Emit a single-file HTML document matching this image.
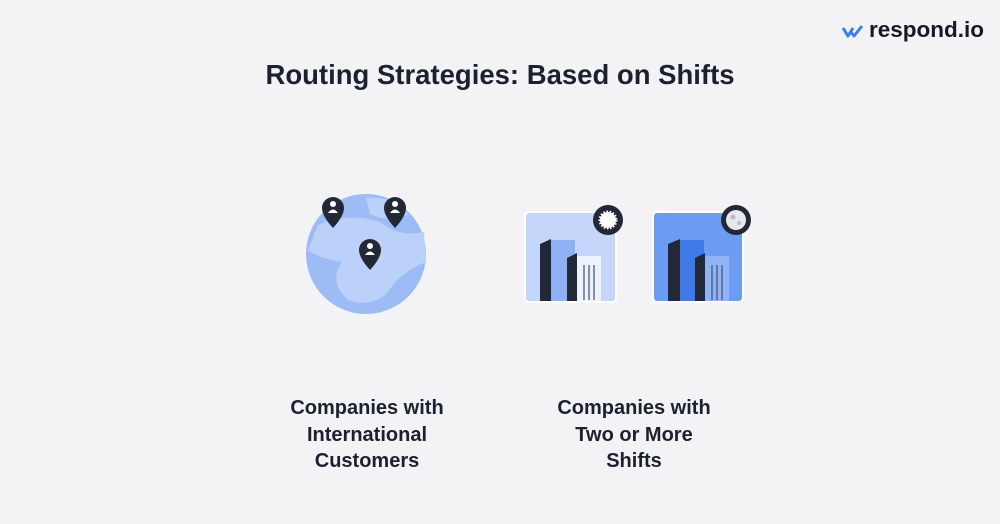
<!DOCTYPE html>
<html><head><meta charset="utf-8"><style>
body{margin:0;width:1000px;height:524px;background:#f3f2f5;font-family:"Liberation Sans",sans-serif;position:relative;overflow:hidden;color:#1c2130}
.t{position:absolute;left:0;width:1000px;top:59px;text-align:center;font-size:27.5px;font-weight:bold}
.l{position:absolute;text-align:center;font-size:20px;font-weight:bold;line-height:26.5px;width:240px}
.logo{position:absolute;left:869px;top:17px;font-size:22.5px;font-weight:bold;color:#161a26}
</style></head><body>
<div class="t">Routing Strategies: Based on Shifts</div>
<svg style="position:absolute;left:840px;top:22px" width="28" height="18"><path d="M3 6 L8 14 L13 6 M10 9 L14 14 L22 4" stroke="#3b7cf0" stroke-width="3" fill="none" stroke-linejoin="round"/></svg>
<div class="logo">respond.io</div>
<svg style="position:absolute;left:0;top:0" width="1000" height="524">
<circle cx="366" cy="254" r="60" fill="#9dbcf6"/>
<path d="M318 225 Q350 212 380 222 Q400 238 424 232 L426 262 Q400 272 388 292 Q372 308 348 300 Q328 282 342 262 Q318 258 308 250 Z" fill="#bcd1fa"/>
<path d="M366 198 Q395 196 408 214 Q392 224 370 214 Z" fill="#bcd1fa"/>
<g fill="#232836">
<path d="M322 208 a11 11 0 1 1 22 0 q0 8 -11 20 q-11 -12 -11 -20z"/>
<path d="M384 208 a11 11 0 1 1 22 0 q0 8 -11 20 q-11 -12 -11 -20z"/>
<path d="M359 250 a11 11 0 1 1 22 0 q0 8 -11 20 q-11 -12 -11 -20z"/>
</g>
<g fill="#fff"><circle cx="333" cy="204" r="3"/><path d="M328 213 q5 -7 10 0z"/><circle cx="395" cy="204" r="3"/><path d="M390 213 q5 -7 10 0z"/><circle cx="370" cy="246" r="3"/><path d="M365 255 q5 -7 10 0z"/></g>
<rect x="525" y="212" width="91" height="90" rx="4" fill="#c5d6fb" stroke="#fff" stroke-width="2"/>
<rect x="551" y="240" width="24" height="61" fill="#8fb0f2"/>
<path d="M540 244 L551 239 L551 301 L540 301Z" fill="#232836"/>
<path d="M567 258 L577 253 L577 301 L567 301Z" fill="#232836"/>
<rect x="577" y="256" width="24" height="45" fill="#eef2fd"/>
<g stroke="#465066" stroke-width="1.2"><line x1="584" y1="265" x2="584" y2="300"/><line x1="589" y1="265" x2="589" y2="300"/><line x1="594" y1="265" x2="594" y2="300"/></g>
<circle cx="608" cy="220" r="15" fill="#232836"/><circle cx="608" cy="220" r="8" fill="#fff" stroke="#fff" stroke-width="3" stroke-dasharray="1.5 1.5"/>
<rect x="653" y="212" width="90" height="90" rx="4" fill="#6c9df3" stroke="#fff" stroke-width="2"/>
<rect x="680" y="240" width="24" height="61" fill="#3f7ae8"/>
<path d="M668 244 L680 239 L680 301 L668 301Z" fill="#232836"/>
<path d="M695 258 L705 253 L705 301 L695 301Z" fill="#232836"/>
<rect x="705" y="256" width="24" height="45" fill="#8fb3f5"/>
<g stroke="#465066" stroke-width="1.2"><line x1="712" y1="265" x2="712" y2="300"/><line x1="717" y1="265" x2="717" y2="300"/><line x1="722" y1="265" x2="722" y2="300"/></g>
<circle cx="736" cy="220" r="15" fill="#232836"/><circle cx="736" cy="220" r="10" fill="#e6e8ee"/><circle cx="733" cy="217" r="2.5" fill="#b9bdc8"/><circle cx="739" cy="223" r="2" fill="#b9bdc8"/>
</svg>
<div class="l" style="left:247px;top:395px">Companies with<br>International<br>Customers</div>
<div class="l" style="left:514px;top:395px">Companies with<br>Two or More<br>Shifts</div>
</body></html>
